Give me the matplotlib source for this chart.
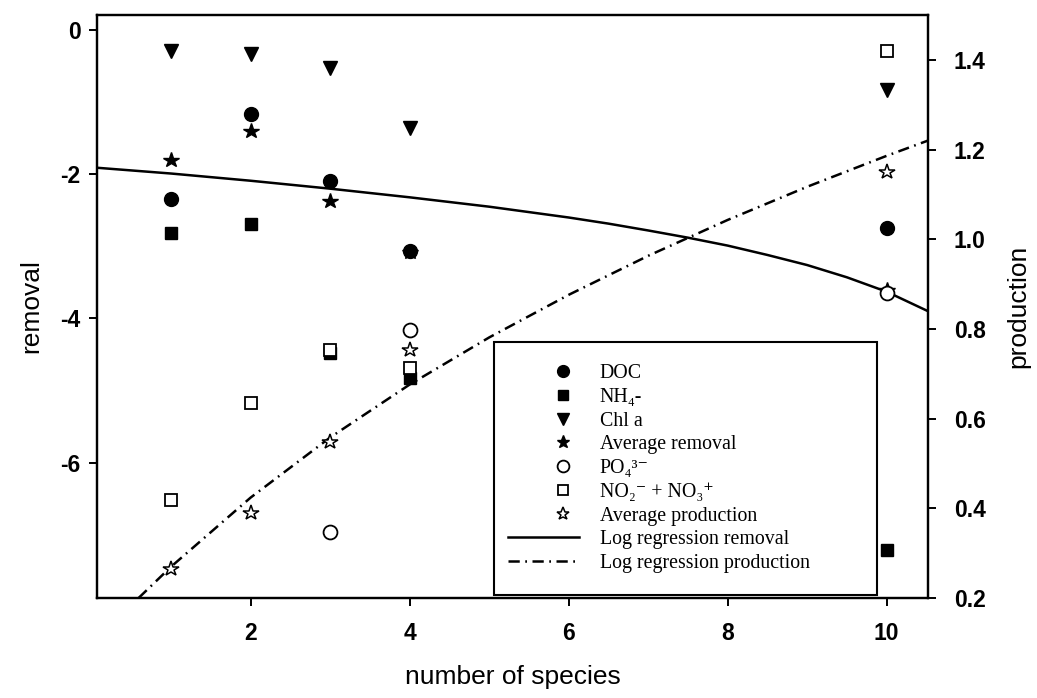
import numpy as np
import matplotlib
matplotlib.use("Agg")
import matplotlib.pyplot as plt
from matplotlib.legend_handler import HandlerLine2D
from matplotlib.lines import Line2D

# ---- data ----
species = [1, 2, 3, 4, 10]
doc = [-2.35, -1.17, -2.10, -3.06, -2.75]
nh4 = [-2.81, -2.69, -4.48, -4.83, -7.21]
chla = [-0.29, -0.33, -0.53, -1.36, -0.83]
avg_removal = [-1.80, -1.40, -2.37, -3.08, -3.60]
po4 = [np.nan, np.nan, 0.347, 0.798, 0.881]
no2_no3 = [0.419, 0.634, 0.752, 0.713, 1.419]
avg_production = [0.264, 0.389, 0.547, 0.754, 1.151]

reg_removal_x = [0.07, 1, 2, 3, 4, 5, 6, 6.5, 7, 7.5, 8, 8.5, 9, 9.5, 10, 10.52]
reg_removal_y = [-1.91, -1.99, -2.09, -2.20, -2.32, -2.45, -2.60, -2.685, -2.78, -2.88,
                 -2.99, -3.12, -3.26, -3.43, -3.63, -3.90]
reg_prod_x = [0.59, 1, 2, 3, 4, 5, 6, 7, 8, 9, 10, 10.52]
reg_prod_y = [0.20, 0.27, 0.424, 0.558, 0.676, 0.781, 0.876, 0.963, 1.043, 1.117, 1.186, 1.22]

x_ticks = [2, 4, 6, 8, 10]
left_ticks = [0, -2, -4, -6]
right_ticks = [0.2, 0.4, 0.6, 0.8, 1.0, 1.2, 1.4]

plt.rcParams['font.family'] = ['Liberation Sans', 'DejaVu Sans']

fig = plt.figure(figsize=(10.37, 6.98), dpi=100)
ax = fig.add_axes([0.0938, 0.1433, 0.8011, 0.8352])
ax2 = ax.twinx()

ms = 10
ax.plot(species, doc, 'o', color='black', ms=ms, label='DOC', zorder=3)
ax.plot(species, nh4, 's', color='black', ms=ms * 0.9, label='NH₄-', zorder=3)
ax.plot(species, chla, 'v', color='black', ms=ms, label='Chl a', zorder=3)
ax.plot(species, avg_removal, '*', color='black', ms=ms * 1.15, label='Average removal', zorder=3)
l_rem, = ax.plot(reg_removal_x, reg_removal_y, '-', color='black', lw=1.8,
                 label='Log regression removal', zorder=2)

ax2.plot(species, po4, 'o', mfc='white', mec='black', mew=1.3, ms=ms, label='PO₄³⁻', zorder=3)
ax2.plot(species, no2_no3, 's', mfc='white', mec='black', mew=1.3, ms=ms * 0.9,
         label='NO₂⁻ + NO₃⁺', zorder=3)
ax2.plot(species, avg_production, '*', mfc='white', mec='black', mew=1.1, ms=ms * 1.15,
         label='Average production', zorder=3)
l_prod, = ax2.plot(reg_prod_x, reg_prod_y, color='black', lw=1.8,
                   linestyle=(0, (4.5, 2.2, 0.7, 2.2)), label='Log regression production', zorder=2)

ax.set_xlim(0.07, 10.52)
ax.set_ylim(-7.88, 0.21)
ax2.set_ylim(0.2, 1.5)
ax.set_xticks(x_ticks)
ax.set_yticks(left_ticks)
ax2.set_yticks(right_ticks)
ax.set_yticklabels([str(v) for v in left_ticks])
ax2.set_yticklabels([f'{v:.1f}' for v in right_ticks])

for a in (ax, ax2):
    for s in a.spines.values():
        s.set_linewidth(1.6)
    a.tick_params(direction='out', length=5.5, width=1.4, labelsize=16.5)
    for t in a.get_xticklabels() + a.get_yticklabels():
        t.set_fontweight('bold')
ax.tick_params(axis='x', pad=12)
ax.tick_params(axis='y', pad=6.5)
ax2.tick_params(axis='y', pad=13)

ax.set_xlabel('number of species', fontsize=19, labelpad=14)
ax.set_ylabel('removal', fontsize=19, labelpad=12)
ax2.set_ylabel('production', fontsize=19, labelpad=15)

SHIFT = -5.5  # points
MFRAC = 0.67


class RightMarker(HandlerLine2D):
    def create_artists(self, legend, orig_handle, xdescent, ydescent, width, height,
                       fontsize, trans):
        y = (height - ydescent) / 2
        line = Line2D([-xdescent + SHIFT, width + SHIFT], [y, y])
        self.update_prop(line, orig_handle, legend)
        line.set_marker('None')
        mk = Line2D([MFRAC * width - xdescent], [y])
        self.update_prop(mk, orig_handle, legend)
        mk.set_linestyle('None')
        mk.set_markersize(orig_handle.get_markersize() * legend.markerscale)
        line.set_transform(trans)
        mk.set_transform(trans)
        return [line, mk]


h1, lab1 = ax.get_legend_handles_labels()
h2, lab2 = ax2.get_legend_handles_labels()
handles = h1[:4] + h2[:3] + [l_rem, l_prod]
labels = lab1[:4] + lab2[:3] + [l_rem.get_label(), l_prod.get_label()]
leg = ax2.legend(handles, labels, loc='lower left',
                 bbox_to_anchor=(0.4776, 0.005, 0.461, 0.43), mode='expand',
                 borderaxespad=0,
                 prop={'family': ['Liberation Serif', 'DejaVu Serif'], 'size': 14.3},
                 frameon=True, fancybox=False, edgecolor='black', framealpha=1,
                 handlelength=3.55, handletextpad=0.67, labelspacing=0.24, borderpad=1.1,
                 markerscale=0.85, numpoints=1,
                 handler_map={Line2D: RightMarker(numpoints=1)})
leg.get_frame().set_linewidth(1.5)
leg.set_zorder(10)

fig.savefig('out.png', dpi=100, facecolor='white')
